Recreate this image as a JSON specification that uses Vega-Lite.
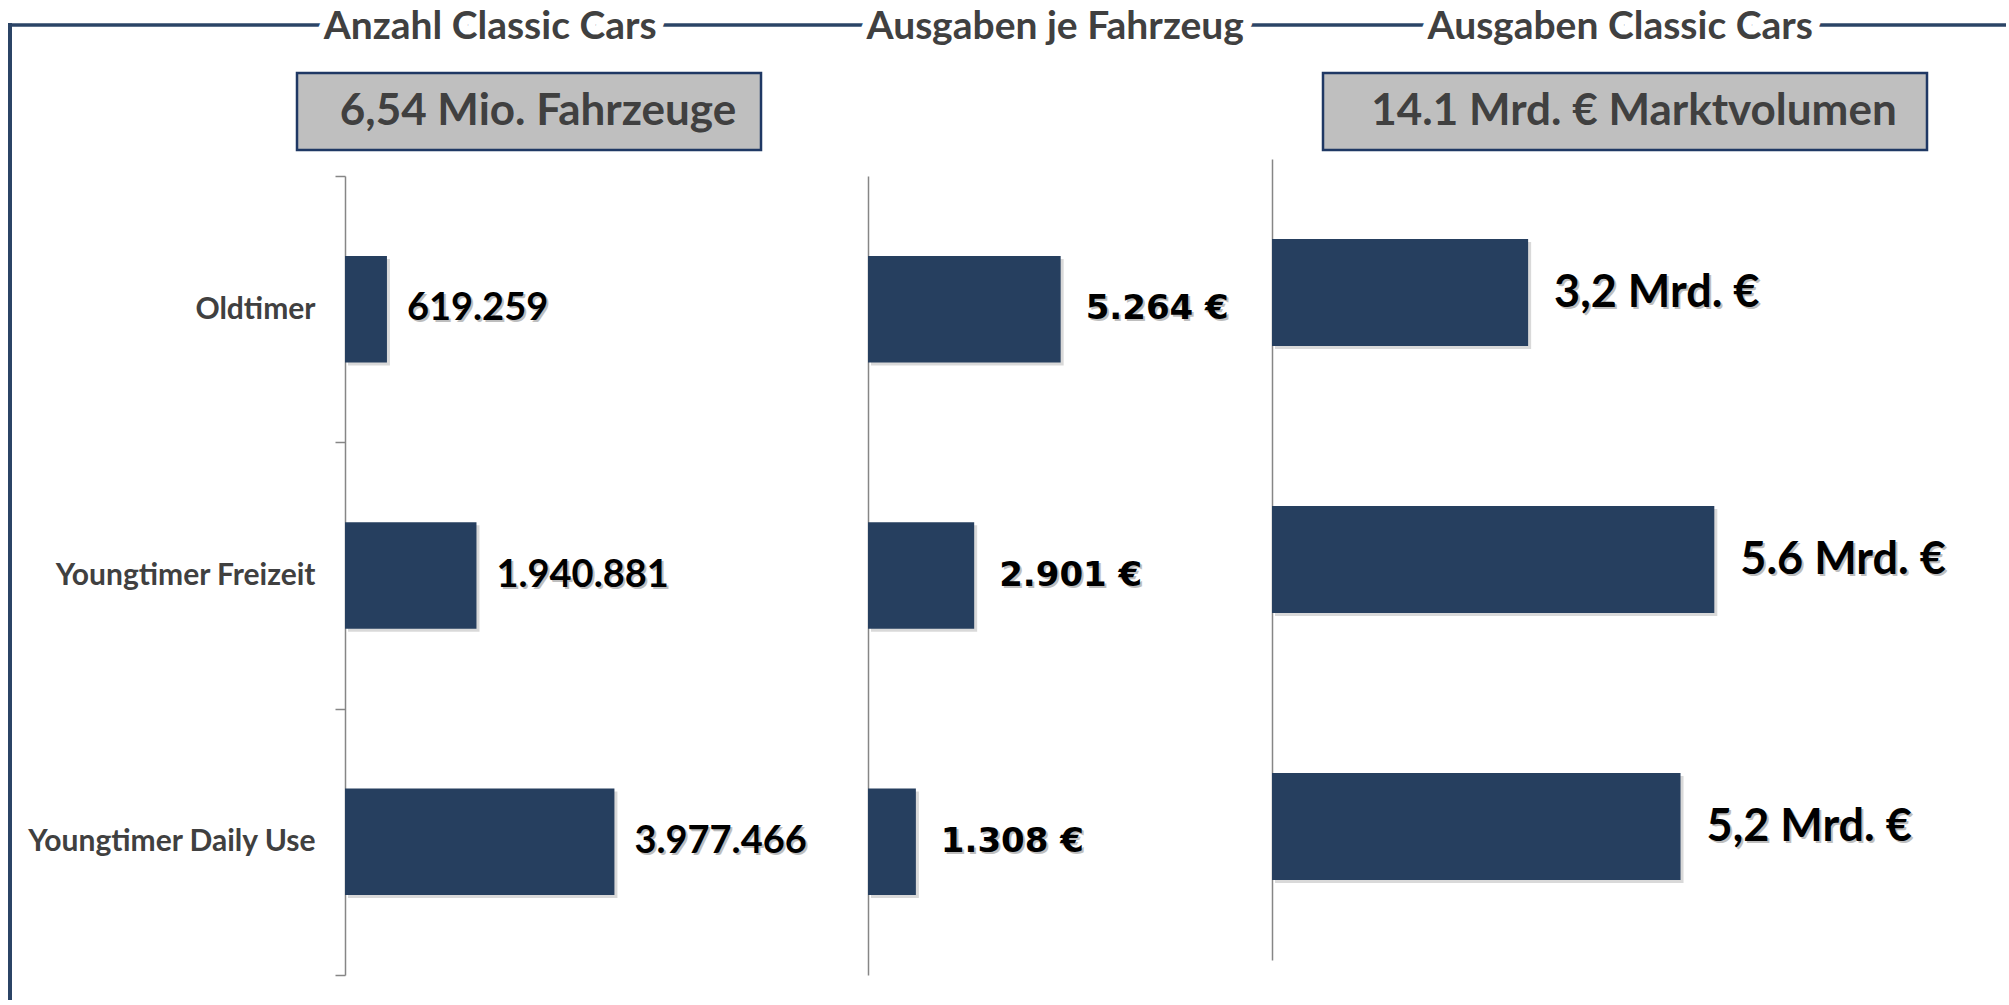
{
  "$schema": "https://vega.github.io/schema/vega-lite/v6.json",
  "padding": {"left": 7, "top": 0, "right": 0, "bottom": 0},
  "background": "white",
  "config": {"view": {"stroke": null}, "font": "Lato"},
  "datasets": {
    "cars": [
      {"cat": "Oldtimer", "anzahl": 619259, "anzahl_txt": "619.259", "ausgaben": 5264, "ausgaben_txt": "5.264 €", "volumen": 3.26, "volumen_txt": "3,2 Mrd. €"},
      {"cat": "Youngtimer Freizeit", "anzahl": 1940881, "anzahl_txt": "1.940.881", "ausgaben": 2901, "ausgaben_txt": "2.901 €", "volumen": 5.63, "volumen_txt": "5.6 Mrd. €"},
      {"cat": "Youngtimer Daily Use", "anzahl": 3977466, "anzahl_txt": "3.977.466", "ausgaben": 1308, "ausgaben_txt": "1.308 €", "volumen": 5.2, "volumen_txt": "5,2 Mrd. €"}
    ],
    "titles": [
      {"title": "Anzahl Classic Cars"},
      {"title": "Ausgaben je Fahrzeug"},
      {"title": "Ausgaben Classic Cars"}
    ],
    "kpi1": [{"t": "6,54 Mio. Fahrzeuge"}],
    "kpi2": [{"t": "14.1 Mrd. € Marktvolumen"}],
    "one": [{}],
    "none": []
  },
  "bounds": "flush",
  "spacing": 0,
  "vconcat": [
    {
      "width": 1996,
      "height": 50,
      "resolve": {"scale": {"x": "independent"}},
      "layer": [
        {
          "data": {"name": "one"},
          "mark": {"type": "rule", "color": "#2b4466", "strokeWidth": 3.5},
          "encoding": {"y": {"datum": 0, "type": "quantitative", "scale": {"domain": [-1, 1]}, "axis": null}}
        },
        {
          "data": {"name": "one"},
          "mark": {"type": "rule", "color": "#2b4466", "strokeWidth": 4, "strokeCap": "square"},
          "encoding": {
            "x": {"datum": 0, "type": "quantitative", "scale": {"domain": [0, 1]}, "axis": null},
            "y": {"datum": 0, "type": "quantitative", "scale": {"domain": [-1, 1]}, "axis": null},
            "y2": {"datum": -1}
          }
        },
        {
          "data": {"name": "titles"},
          "mark": {"type": "text", "font": "Lato", "fontWeight": "bold", "fontSize": 39, "fill": "white", "stroke": "white", "strokeWidth": 18, "strokeJoin": "round", "baseline": "middle", "dy": 2},
          "encoding": {
            "x": {"field": "title", "type": "nominal", "sort": ["Anzahl Classic Cars", "Ausgaben je Fahrzeug", "Ausgaben Classic Cars"], "scale": {"type": "point", "padding": 0.7664, "align": 0.5545}, "axis": null},
            "y": {"datum": 0, "type": "quantitative", "scale": {"domain": [-1, 1]}, "axis": null},
            "text": {"field": "title"}
          }
        },
        {
          "data": {"name": "titles"},
          "mark": {"type": "text", "font": "Lato", "fontWeight": "bold", "fontSize": 39, "fill": "#404040", "baseline": "middle", "dy": 2},
          "encoding": {
            "x": {"field": "title", "type": "nominal", "sort": ["Anzahl Classic Cars", "Ausgaben je Fahrzeug", "Ausgaben Classic Cars"], "scale": {"type": "point", "padding": 0.7664, "align": 0.5545}, "axis": null},
            "y": {"datum": 0, "type": "quantitative", "scale": {"domain": [-1, 1]}, "axis": null},
            "text": {"field": "title"}
          }
        }
      ]
    },
    {
      "bounds": "flush",
      "spacing": 0,
      "hconcat": [
        {
          "width": 1,
          "height": 950,
          "data": {"name": "one"},
          "mark": {"type": "rule", "color": "#2b4466", "strokeWidth": 4},
          "encoding": {"x": {"datum": 0, "type": "quantitative", "scale": {"domain": [0, 1]}, "axis": null}}
        },
        {
          "bounds": "flush",
          "spacing": 0,
          "vconcat": [
            {"width": 1, "height": 23, "data": {"name": "none"}, "mark": "point"},
            {
              "bounds": "flush",
              "spacing": 0,
              "hconcat": [
                {"width": 286, "height": 77, "data": {"name": "none"}, "mark": "point"},
                {
                  "width": 464,
                  "height": 77,
                  "data": {"name": "kpi1"},
                  "view": {"fill": "#bfbfbf", "stroke": "#1f3864", "strokeWidth": 2.5},
                  "mark": {"type": "text", "font": "Lato", "fontWeight": "bold", "fontSize": 44, "color": "#404040", "dx": 9, "baseline": "middle"},
                  "encoding": {"text": {"field": "t"}}
                },
                {"width": 562, "height": 77, "data": {"name": "none"}, "mark": "point"},
                {
                  "width": 604,
                  "height": 77,
                  "data": {"name": "kpi2"},
                  "view": {"fill": "#bfbfbf", "stroke": "#1f3864", "strokeWidth": 2.5},
                  "mark": {"type": "text", "font": "Lato", "fontWeight": "bold", "fontSize": 44, "color": "#404040", "dx": 9, "baseline": "middle"},
                  "encoding": {"text": {"field": "t"}}
                }
              ]
            },
            {"width": 1, "height": 86, "data": {"name": "none"}, "mark": "point"},
            {
              "bounds": "flush",
              "spacing": 0,
              "hconcat": [
                {"width": 334, "height": 1, "data": {"name": "none"}, "mark": "point"},
                {
                  "bounds": "flush",
                  "spacing": 0,
                  "vconcat": [
                    {"width": 1, "height": 17, "data": {"name": "none"}, "mark": "point"},
                    {
                      "width": 485,
                      "height": 799,
                      "data": {"name": "cars"},
                      "encoding": {
                        "y": {"field": "cat", "type": "nominal", "sort": ["Oldtimer", "Youngtimer Freizeit", "Youngtimer Daily Use"], "scale": {"paddingInner": 0, "paddingOuter": 0},
                          "axis": {"title": null, "domainColor": "#868686", "domainWidth": 1.5, "tickColor": "#868686", "tickWidth": 1.5, "tickSize": 10, "tickBand": "extent", "labelFont": "Lato", "labelFontWeight": "bold", "labelFontSize": 30, "labelColor": "#404040", "labelPadding": 20, "labelLimit": 400}},
                        "x": {"field": "anzahl", "type": "quantitative", "scale": {"domain": [0, 7160000], "nice": false}, "axis": null}
                      },
                      "layer": [
                        {"mark": {"type": "bar", "height": {"band": 0.4}, "color": "#808080", "opacity": 0.3, "xOffset": 3, "yOffset": 3}},
                        {"mark": {"type": "bar", "height": {"band": 0.4}, "color": "#263f5f"}},
                        {"mark": {"type": "text", "align": "left", "baseline": "middle", "dx": 22, "dy": 2, "font": "Lato", "fontWeight": "bold", "fontSize": 38, "color": "#7f7f7f", "opacity": 0.5}, "encoding": {"text": {"field": "anzahl_txt"}}},
                        {"mark": {"type": "text", "align": "left", "baseline": "middle", "dx": 20, "font": "Lato", "fontWeight": "bold", "fontSize": 38, "color": "#000000"}, "encoding": {"text": {"field": "anzahl_txt"}}}
                      ]
                    }
                  ]
                },
                {"width": 523, "height": 1, "data": {"name": "none"}, "mark": "point"},
                {
                  "bounds": "flush",
                  "spacing": 0,
                  "vconcat": [
                    {"width": 1, "height": 17, "data": {"name": "none"}, "mark": "point"},
                    {
                      "width": 366,
                      "height": 799,
                      "data": {"name": "cars"},
                      "encoding": {
                        "y": {"field": "cat", "type": "nominal", "sort": ["Oldtimer", "Youngtimer Freizeit", "Youngtimer Daily Use"], "scale": {"paddingInner": 0, "paddingOuter": 0},
                          "axis": {"title": null, "labels": false, "ticks": false, "domainColor": "#868686", "domainWidth": 1.5}},
                        "x": {"field": "ausgaben", "type": "quantitative", "scale": {"domain": [0, 10000], "nice": false}, "axis": null}
                      },
                      "layer": [
                        {"mark": {"type": "bar", "height": {"band": 0.4}, "color": "#808080", "opacity": 0.3, "xOffset": 3, "yOffset": 3}},
                        {"mark": {"type": "bar", "height": {"band": 0.4}, "color": "#263f5f"}},
                        {"mark": {"type": "text", "align": "left", "baseline": "middle", "dx": 27, "dy": 2, "font": "DejaVu Sans", "fontWeight": "bold", "fontSize": 34, "color": "#7f7f7f", "opacity": 0.5}, "encoding": {"text": {"field": "ausgaben_txt"}}},
                        {"mark": {"type": "text", "align": "left", "baseline": "middle", "dx": 25, "font": "DejaVu Sans", "fontWeight": "bold", "fontSize": 34, "color": "#000000"}, "encoding": {"text": {"field": "ausgaben_txt"}}}
                      ]
                    }
                  ]
                },
                {"width": 404, "height": 1, "data": {"name": "none"}, "mark": "point"},
                {
                  "width": 711,
                  "height": 801,
                  "data": {"name": "cars"},
                  "encoding": {
                    "y": {"field": "cat", "type": "nominal", "sort": ["Oldtimer", "Youngtimer Freizeit", "Youngtimer Daily Use"], "scale": {"paddingInner": 0, "paddingOuter": 0},
                      "axis": {"title": null, "labels": false, "ticks": false, "domainColor": "#868686", "domainWidth": 1.5}},
                    "x": {"field": "volumen", "type": "quantitative", "scale": {"domain": [0, 9.05], "nice": false}, "axis": null}
                  },
                  "layer": [
                    {"mark": {"type": "bar", "height": {"band": 0.4}, "color": "#808080", "opacity": 0.3, "xOffset": 3, "yOffset": 3}},
                    {"mark": {"type": "bar", "height": {"band": 0.4}, "color": "#263f5f"}},
                    {"mark": {"type": "text", "align": "left", "baseline": "middle", "dx": 28, "dy": 2, "font": "Lato", "fontWeight": "bold", "fontSize": 45, "color": "#7f7f7f", "opacity": 0.5}, "encoding": {"text": {"field": "volumen_txt"}}},
                    {"mark": {"type": "text", "align": "left", "baseline": "middle", "dx": 26, "font": "Lato", "fontWeight": "bold", "fontSize": 45, "color": "#000000"}, "encoding": {"text": {"field": "volumen_txt"}}}
                  ]
                }
              ]
            }
          ]
        }
      ]
    }
  ]
}
